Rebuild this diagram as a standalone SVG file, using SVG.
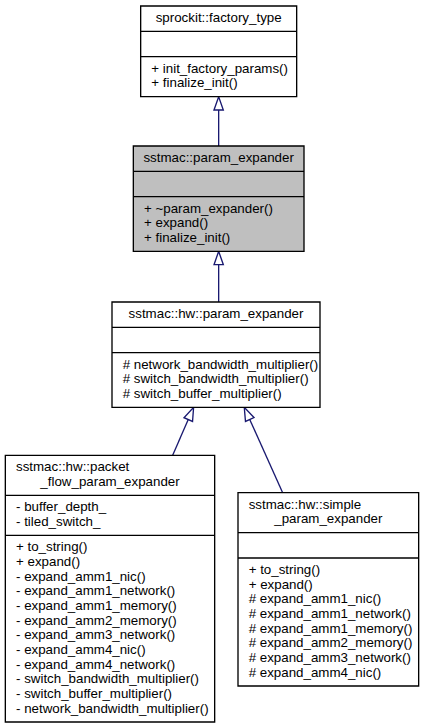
<svg xmlns="http://www.w3.org/2000/svg" width="424" height="728" viewBox="0 0 424 728">
<style>
.box{fill:#ffffff;stroke:#000000;stroke-width:1}
.sel{fill:#bfbfbf;stroke:#000000;stroke-width:1}
.div{fill:none;stroke:#000000;stroke-width:1}
text{font-family:"Liberation Sans",Helvetica,Arial,sans-serif;font-size:10px;fill:#000000}
.m{text-anchor:middle}
.s{text-anchor:start}
.edge{fill:none;stroke:#191970;stroke-width:1}
.head{fill:none;stroke:#191970;stroke-width:1}
</style>
<rect x="0" y="0" width="424" height="728" fill="#ffffff"/>
<g transform="scale(1.333333) translate(4 542)">
<g id="connectors">
<path class="edge" d="M160,-432.5L160,-459.5"/>
<polygon class="head" points="156.5,-459.5 160,-469.5 163.5,-459.5 156.5,-459.5"/>
<path class="edge" d="M160,-315.5L160,-343.5"/>
<polygon class="head" points="156.5,-343.5 160,-353.5 163.5,-343.5 156.5,-343.5"/>
<path class="edge" d="M125.5,-200.5L137.2,-227.33"/>
<polygon class="head" points="140.41,-225.93 141.2,-236.5 133.99,-228.73 140.41,-225.93"/>
<path class="edge" d="M208,-172.5L183.3,-227.38"/>
<polygon class="head" points="186.49,-228.82 179.2,-236.5 180.11,-225.94 186.49,-228.82"/>
</g>
<g id="node_factory_type">
<polygon class="box" points="101.5,-469.5 101.5,-537.5 218.5,-537.5 218.5,-469.5"/>
<text class="m" x="160" y="-525.5">sprockit::factory_type</text>
<polyline class="div" points="101.5,-518.5 218.5,-518.5"/>
<polyline class="div" points="101.5,-499.5 218.5,-499.5"/>
<text class="s" x="109.5" y="-487.5">+ init_factory_params()</text>
<text class="s" x="109.5" y="-476.5">+ finalize_init()</text>
</g>
<g id="node_param_expander">
<polygon class="sel" points="96,-353.5 96,-432.5 224,-432.5 224,-353.5"/>
<text class="m" x="160" y="-420.5">sstmac::param_expander</text>
<polyline class="div" points="96,-413.5 224,-413.5"/>
<polyline class="div" points="96,-394.5 224,-394.5"/>
<text class="s" x="104" y="-382.5">+ ~param_expander()</text>
<text class="s" x="104" y="-371.5">+ expand()</text>
<text class="s" x="104" y="-360.5">+ finalize_init()</text>
</g>
<g id="node_hw_param_expander">
<polygon class="box" points="80,-236.5 80,-315.5 236,-315.5 236,-236.5"/>
<text class="m" x="158" y="-303.5">sstmac::hw::param_expander</text>
<polyline class="div" points="80,-296.5 236,-296.5"/>
<polyline class="div" points="80,-277.5 236,-277.5"/>
<text class="s" x="88" y="-265.5"># network_bandwidth_multiplier()</text>
<text class="s" x="88" y="-254.5"># switch_bandwidth_multiplier()</text>
<text class="s" x="88" y="-243.5"># switch_buffer_multiplier()</text>
</g>
<g id="node_packet_flow_param_expander">
<polygon class="box" points="0,-0.5 0,-200.5 157,-200.5 157,-0.5"/>
<text class="s" x="8" y="-188.5">sstmac::hw::packet</text>
<text class="m" x="78.5" y="-177.5">_flow_param_expander</text>
<polyline class="div" points="0,-170.5 157,-170.5"/>
<text class="s" x="8" y="-158.5">- buffer_depth_</text>
<text class="s" x="8" y="-147.5">- tiled_switch_</text>
<polyline class="div" points="0,-140.5 157,-140.5"/>
<text class="s" x="8" y="-128.5">+ to_string()</text>
<text class="s" x="8" y="-117.5">+ expand()</text>
<text class="s" x="8" y="-106.5">- expand_amm1_nic()</text>
<text class="s" x="8" y="-95.5">- expand_amm1_network()</text>
<text class="s" x="8" y="-84.5">- expand_amm1_memory()</text>
<text class="s" x="8" y="-73.5">- expand_amm2_memory()</text>
<text class="s" x="8" y="-62.5">- expand_amm3_network()</text>
<text class="s" x="8" y="-51.5">- expand_amm4_nic()</text>
<text class="s" x="8" y="-40.5">- expand_amm4_network()</text>
<text class="s" x="8" y="-29.5">- switch_bandwidth_multiplier()</text>
<text class="s" x="8" y="-18.5">- switch_buffer_multiplier()</text>
<text class="s" x="8" y="-7.5">- network_bandwidth_multiplier()</text>
</g>
<g id="node_simple_param_expander">
<polygon class="box" points="174.5,-27.5 174.5,-172.5 310,-172.5 310,-27.5"/>
<text class="s" x="182.5" y="-160.5">sstmac::hw::simple</text>
<text class="m" x="242.25" y="-149.5">_param_expander</text>
<polyline class="div" points="174.5,-142.5 310,-142.5"/>
<polyline class="div" points="174.5,-123.5 310,-123.5"/>
<text class="s" x="182.5" y="-111.5">+ to_string()</text>
<text class="s" x="182.5" y="-100.5">+ expand()</text>
<text class="s" x="182.5" y="-89.5"># expand_amm1_nic()</text>
<text class="s" x="182.5" y="-78.5"># expand_amm1_network()</text>
<text class="s" x="182.5" y="-67.5"># expand_amm1_memory()</text>
<text class="s" x="182.5" y="-56.5"># expand_amm2_memory()</text>
<text class="s" x="182.5" y="-45.5"># expand_amm3_network()</text>
<text class="s" x="182.5" y="-34.5"># expand_amm4_nic()</text>
</g>
</g>
</svg>
